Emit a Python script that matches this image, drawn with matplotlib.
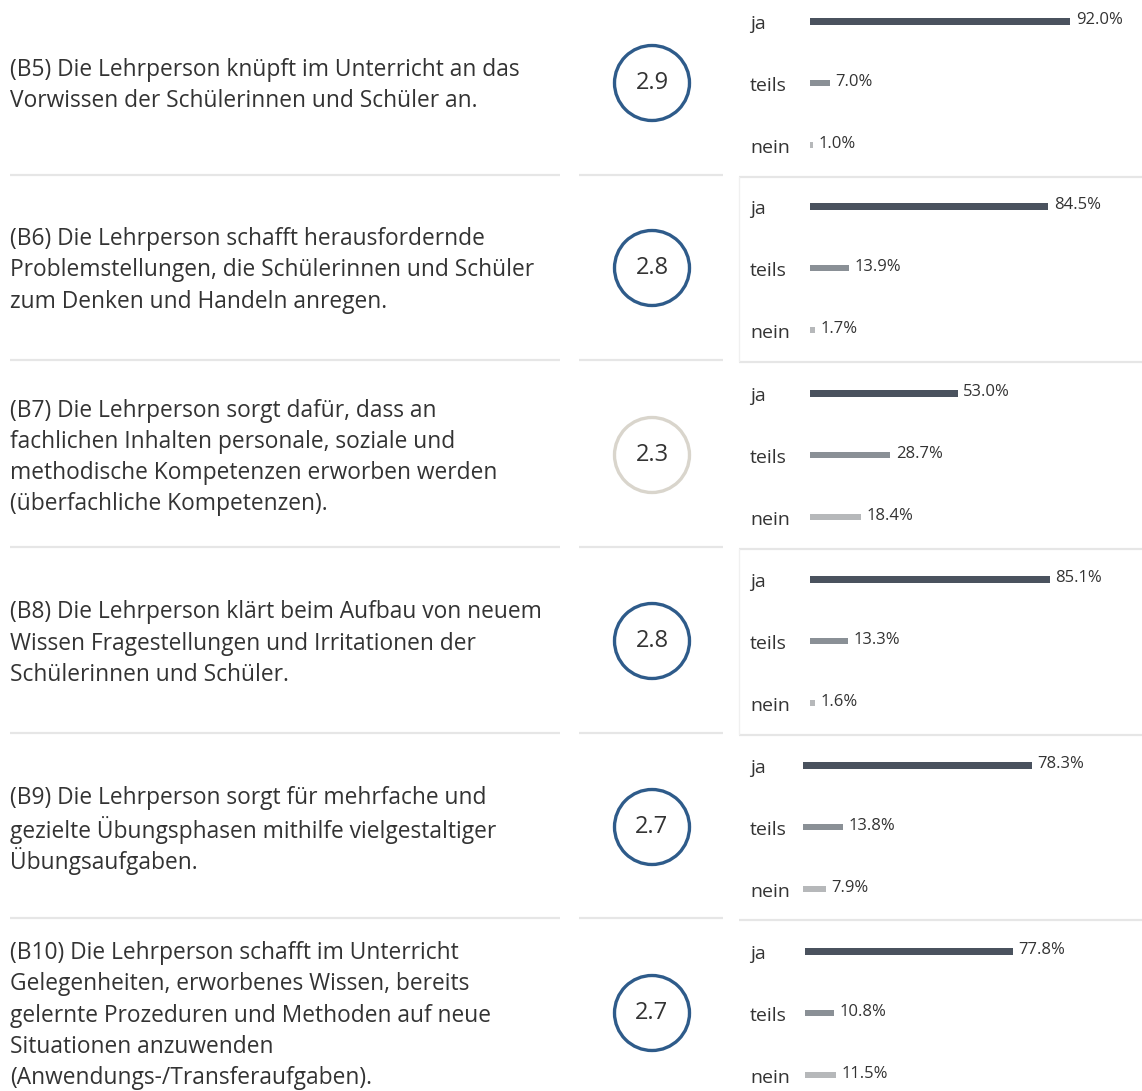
import matplotlib
matplotlib.use("Agg")
import matplotlib.pyplot as plt
from matplotlib.patches import Circle

plt.rcParams['font.family'] = ['Open Sans', 'DejaVu Sans']

# ---- data ----
questions = [
    ["(B5) Die Lehrperson knüpft im Unterricht an das",
     "Vorwissen der Schülerinnen und Schüler an."],
    ["(B6) Die Lehrperson schafft herausfordernde",
     "Problemstellungen, die Schülerinnen und Schüler",
     "zum Denken und Handeln anregen."],
    ["(B7) Die Lehrperson sorgt dafür, dass an",
     "fachlichen Inhalten personale, soziale und",
     "methodische Kompetenzen erworben werden",
     "(überfachliche Kompetenzen)."],
    ["(B8) Die Lehrperson klärt beim Aufbau von neuem",
     "Wissen Fragestellungen und Irritationen der",
     "Schülerinnen und Schüler."],
    ["(B9) Die Lehrperson sorgt für mehrfache und",
     "gezielte Übungsphasen mithilfe vielgestaltiger",
     "Übungsaufgaben."],
    ["(B10) Die Lehrperson schafft im Unterricht",
     "Gelegenheiten, erworbenes Wissen, bereits",
     "gelernte Prozeduren und Methoden auf neue",
     "Situationen anzuwenden",
     "(Anwendungs-/Transferaufgaben)."],
]
scores = [2.9, 2.8, 2.3, 2.8, 2.7, 2.7]
categories = ["ja", "teils", "nein"]
ja_values = [92.0, 84.5, 53.0, 85.1, 78.3, 77.8]
teils_values = [7.0, 13.9, 28.7, 13.3, 13.8, 10.8]
nein_values = [1.0, 1.7, 18.4, 1.6, 7.9, 11.5]

# ---- layout (pixels) ----
W, H = 1142, 1091
row_centers = [83, 268, 455, 641, 827, 1013]
separators = [175, 360, 547, 733, 918]
bar_x0 = [810, 810, 810, 810, 803, 805]
px_per_pct = [2.83, 2.82, 2.79, 2.82, 2.92, 2.67]
score_colors = ["#2e5b8a", "#2e5b8a", "#d9d5cc", "#2e5b8a", "#2e5b8a", "#2e5b8a"]
bar_colors = ["#4a525e", "#8a9096", "#b6b8ba"]
bar_heights_px = [7, 6, 6]
row_step = 62
text_color = "#333333"

fig = plt.figure(figsize=(W / 100, H / 100), dpi=100)
bg = fig.add_axes([0, 0, 1, 1])
bg.set_xlim(0, W)
bg.set_ylim(H, 0)
bg.axis("off")

# separators
for y in separators:
    bg.plot([10, 560], [y, y], color="#e6e6e6", lw=1.6, solid_capstyle="butt")
    bg.plot([579, 723], [y, y], color="#e6e6e6", lw=1.6, solid_capstyle="butt")
    bg.plot([739, W], [y + 1.5, y + 1.5], color="#e6e6e6", lw=1.6, solid_capstyle="butt")
# faint vertical borders of some bar panels
for i in (1, 3):
    top = separators[i - 1] + 2
    bot = separators[i] + 1
    bg.plot([739, 739], [top, bot], color="#f0f0f0", lw=1.0)

line_h = 31.2
for i, lines in enumerate(questions):
    c = row_centers[i]
    n = len(lines)
    for k, ln in enumerate(lines):
        y = c + 2.5 + (k - (n - 1) / 2) * line_h
        bg.text(10, y, ln, fontsize=16.4, color=text_color, va="center", ha="left")
    # score circle
    bg.add_patch(Circle((652, c), 37.5, fill=False, edgecolor=score_colors[i], lw=2.4))
    bg.text(652, c, f"{scores[i]:.1f}", fontsize=17, color=text_color,
            ha="center", va="center")
    # category labels
    for j, cat in enumerate(categories):
        bg.text(750, c + (j - 1) * row_step + 3, cat, fontsize=14,
                color=text_color, ha="left", va="center")

# bars (one axes per row)
for i in range(6):
    c = row_centers[i]
    x0 = bar_x0[i]
    top = c - 1.5 * row_step
    ax = fig.add_axes([x0 / W, 1 - (top + 3 * row_step) / H,
                       (W - x0) / W, 3 * row_step / H])
    ax.set_xlim(0, (W - x0) / px_per_pct[i])
    ax.set_ylim(2.5, -0.5)
    ax.axis("off")
    vals = [ja_values[i], teils_values[i], nein_values[i]]
    for j, v in enumerate(vals):
        ax.barh(j, v, height=bar_heights_px[j] / row_step, color=bar_colors[j], linewidth=0)
        ax.annotate(f"{v:.1f}%", xy=(v, j), xytext=(4, 1), textcoords="offset points",
                    fontsize=12, color=text_color, ha="left", va="center")

fig.savefig("out.png", dpi=100, facecolor="white")
